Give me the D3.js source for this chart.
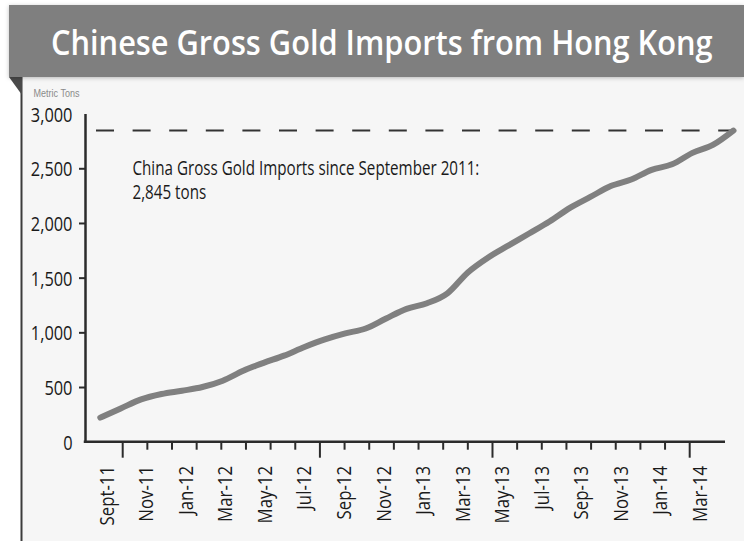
<!DOCTYPE html>
<html>
<head>
<meta charset="utf-8">
<script src="https://cdn.jsdelivr.net/npm/d3@7/dist/d3.min.js"></script>
<style>
  html, body { margin: 0; padding: 0; background: #ffffff; }
  svg { display: block; }
</style>
</head>
<body>
<svg id="chart" width="744" height="541"></svg>
<script>
// ---- chart content ----
const chartTitle = "Chinese Gross Gold Imports from Hong Kong";
const unitLabel = "Metric Tons";
const noteLine = "China Gross Gold Imports since September 2011:";
const totalTons = 2845;

// monthly observations, Sept 2011 – Apr 2014
const months = [
  "2011-09", "2011-10", "2011-11", "2011-12",
  "2012-01", "2012-02", "2012-03", "2012-04", "2012-05", "2012-06",
  "2012-07", "2012-08", "2012-09", "2012-10", "2012-11", "2012-12",
  "2013-01", "2013-02", "2013-03", "2013-04", "2013-05", "2013-06",
  "2013-07", "2013-08", "2013-09", "2013-10", "2013-11", "2013-12",
  "2014-01", "2014-02", "2014-03", "2014-04"
];
// cumulative gross imports, metric tons
const cumulativeTons = [
  220, 304, 387, 436,
  466, 500, 558, 649, 721, 787,
  866, 935, 990, 1035, 1127, 1214,
  1266, 1357, 1548, 1685, 1795, 1904,
  2014, 2138, 2238, 2337, 2397, 2485,
  2536, 2641, 2714, 2845
];

const yTickValues = [0, 500, 1000, 1500, 2000, 2500, 3000];
const xTickLabels = [
  "Sept-11", "Nov-11", "Jan-12", "Mar-12", "May-12", "Jul-12", "Sep-12", "Nov-12",
  "Jan-13", "Mar-13", "May-13", "Jul-13", "Sep-13", "Nov-13", "Jan-14", "Mar-14"
];
const axisMarks = d3.range(24);
const longMarks = [0, 8, 15, 23];

// ---- drawing ----
const svg = d3.select("#chart");
const sans = "'Open Sans', 'Liberation Sans', sans-serif";
const plainSans = "'Liberation Sans', Arial, sans-serif";
const ink = "#2b2b2b";
const labelInk = "#1a1a1a";

// Text squeezed horizontally for a condensed look.
// Either a fixed squeeze factor or a target width may be given; returns the factor used.
function condensedText(parent, str, o) {
  const g = parent.append("g")
    .attr("transform", `translate(${o.x},${o.y})` + (o.rotate ? ` rotate(${o.rotate})` : ""));
  const t = g.append("text")
    .attr("font-family", o.family || sans)
    .attr("font-weight", o.weight || 400)
    .attr("font-size", o.size)
    .attr("fill", o.fill || labelInk)
    .attr("text-anchor", o.anchor || "start")
    .attr("dy", o.dy || null)
    .text(str);
  const natural = t.node().getComputedTextLength();
  const k = o.width ? o.width / natural : (o.squeeze || 1);
  t.attr("transform", `scale(${k},1)`);
  return k;
}

const defs = svg.append("defs");
const shadow = defs.append("filter").attr("id", "bannerShadow")
  .attr("x", "-5%").attr("y", "-20%").attr("width", "110%").attr("height", "150%");
shadow.append("feDropShadow")
  .attr("dx", 0).attr("dy", 1).attr("stdDeviation", 2)
  .attr("flood-color", "#000").attr("flood-opacity", 0.25);

// panel
svg.append("rect").attr("x", 21).attr("y", 77).attr("width", 723).attr("height", 464)
  .attr("fill", "#f6f6f6");
svg.append("line").attr("x1", 21.5).attr("x2", 21.5).attr("y1", 77).attr("y2", 541)
  .attr("stroke", "#3c3c3c").attr("stroke-width", 2);
// ribbon fold
svg.append("polygon").attr("points", "9,77 22,77 22,95").attr("fill", "#4a4a4a");
// banner
svg.append("rect").attr("x", 9).attr("y", 5).attr("width", 735).attr("height", 72)
  .attr("fill", "#7f7f7f").attr("filter", "url(#bannerShadow)");
condensedText(svg, chartTitle, {
  x: 51, y: 55, size: 34, weight: 600, fill: "#ffffff", width: 662
});

// scales
const y = d3.scaleLinear().domain([0, 3000]).range([441.7, 113.6]);
const x = d3.scalePoint().domain(months).range([100.3, 733.3]);
const labelX = d3.scalePoint().domain(xTickLabels).range([106.7, 700]);
const markX = d3.scaleLinear().domain([0, axisMarks.length - 1]).range([122.7, 689.7]);
const axisLeftX = 85;
const axisRightX = 725;

// unit label
condensedText(svg, unitLabel, {
  x: 33.5, y: 97, size: 11.5, family: plainSans, fill: "#8a8a8a", width: 46
});

// y axis
const yAxis = d3.axisLeft(y)
  .tickValues(yTickValues)
  .tickSize(6)
  .tickSizeOuter(0)
  .tickFormat("");
const gy = svg.append("g").attr("transform", `translate(${axisLeftX},0)`).call(yAxis);
gy.select(".domain").attr("stroke", ink).attr("stroke-width", 2.5);
gy.selectAll(".tick line").attr("stroke", ink).attr("stroke-width", 2)
  .attr("opacity", d => (d === 0 || d === 3000) ? 0 : 1);
gy.selectAll(".tick text").remove();
const yFmt = d3.format(",");
yTickValues.forEach(v => {
  condensedText(svg, yFmt(v), {
    x: axisLeftX - 12.5, y: y(v), size: 20, anchor: "end", dy: "0.4em", squeeze: 0.82
  });
});

// x axis line and tick marks
const gx = svg.append("g");
gx.append("line")
  .attr("x1", axisLeftX - 1.25).attr("x2", axisRightX)
  .attr("y1", y(0)).attr("y2", y(0))
  .attr("stroke", ink).attr("stroke-width", 2.5);
gx.selectAll("line.mark").data(axisMarks).join("line")
  .attr("class", "mark")
  .attr("x1", d => markX(d)).attr("x2", d => markX(d))
  .attr("y1", y(0)).attr("y2", d => y(0) + (longMarks.includes(d) ? 16 : 8))
  .attr("stroke", ink).attr("stroke-width", 2);
xTickLabels.forEach(lbl => {
  condensedText(gx, lbl, {
    x: labelX(lbl), y: 466, rotate: -90, size: 20, anchor: "end", dy: "0.35em", squeeze: 0.84
  });
});

// total reference line
svg.append("line")
  .attr("x1", 96).attr("x2", 737)
  .attr("y1", y(totalTons)).attr("y2", y(totalTons))
  .attr("stroke", "#333").attr("stroke-width", 2)
  .attr("stroke-dasharray", "18 18.6");

// note
const noteSqueeze = condensedText(svg, noteLine, { x: 132.5, y: 175, size: 20, width: 347 });
condensedText(svg, d3.format(",")(totalTons) + " tons",
  { x: 132.5, y: 199.3, size: 20, squeeze: noteSqueeze });

// cumulative line
const series = months.map((m, i) => ({ month: m, tons: cumulativeTons[i] }));
const line = d3.line()
  .x(d => x(d.month))
  .y(d => y(d.tons))
  .curve(d3.curveMonotoneX);
svg.append("path")
  .datum(series)
  .attr("d", line)
  .attr("fill", "none")
  .attr("stroke", "#808080")
  .attr("stroke-width", 6)
  .attr("stroke-linecap", "round")
  .attr("stroke-linejoin", "round");
</script>
</body>
</html>
